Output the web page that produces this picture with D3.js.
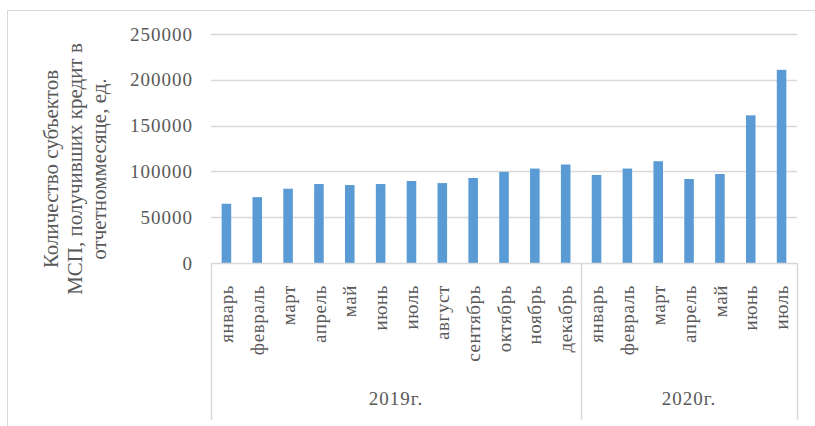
<!DOCTYPE html>
<html>
<head>
<meta charset="utf-8">
<script src="https://cdn.jsdelivr.net/npm/d3@7"></script>
<style>
  body { margin: 0; background: #fff; }
  text { font-family: "Liberation Serif", "Times New Roman", serif; fill: #595959; }
</style>
</head>
<body>
<div id="chart"></div>
<script>
var width = 815;
var height = 426;

var months2019 = ["январь","февраль","март","апрель","май","июнь","июль","август","сентябрь","октябрь","ноябрь","декабрь"];
var months2020 = ["январь","февраль","март","апрель","май","июнь","июль"];
var values2019 = [64700, 71900, 81100, 86200, 85100, 86200, 89500, 87300, 92800, 99500, 103100, 107500];
var values2020 = [96100, 103100, 111100, 91700, 97200, 161200, 210900];
var years = ["2019г.", "2020г."];
var yTicks = [0, 50000, 100000, 150000, 200000, 250000];
var yTitle = ["Количество субъектов", "МСП, получивших кредит в", "отчетноммесяце, ед."];

// flat list of bars, each knows its year group
var data = [];
months2019.forEach(function(m, i){ data.push({ key: "2019-" + i, month: m, year: years[0], value: values2019[i] }); });
months2020.forEach(function(m, i){ data.push({ key: "2020-" + i, month: m, year: years[1], value: values2020[i] }); });

var plotLeft = 211, plotRight = 797, plotTop = 34, plotBottom = 263, boxBottom = 420;

var svg = d3.select("#chart")
    .append("svg")
    .attr("width", width)
    .attr("height", height);

// outer chart frame
svg.append("rect")
    .attr("x", 7.5).attr("y", 10.5)
    .attr("width", 820).attr("height", 430)
    .attr("fill", "none")
    .attr("stroke", "#d9d9d9");

var x = d3.scaleBand()
    .domain(data.map(function(d){ return d.key; }))
    .range([plotLeft, plotRight])
    .paddingInner(0.69)
    .paddingOuter(0.345);

var y = d3.scaleLinear()
    .domain([0, 250000])
    .range([plotBottom, plotTop]);

// gridlines
svg.append("g")
    .selectAll("line")
    .data(yTicks.slice(1))
    .enter()
        .append("line")
        .attr("x1", plotLeft).attr("x2", plotRight)
        .attr("y1", function(d){ return Math.round(y(d)) + 0.5; })
        .attr("y2", function(d){ return Math.round(y(d)) + 0.5; })
        .attr("stroke", "#d9d9d9")
        .attr("stroke-width", 1.5);

// y tick labels
svg.append("g")
    .selectAll("text")
    .data(yTicks)
    .enter()
        .append("text")
        .attr("x", 193)
        .attr("y", function(d){ return y(d); })
        .attr("dy", "0.35em")
        .attr("text-anchor", "end")
        .style("font-size", "19px")
        .style("letter-spacing", "1px")
        .text(function(d){ return d; });

// bars
svg.append("g")
    .selectAll("rect")
    .data(data)
    .enter()
        .append("rect")
        .attr("x", function(d){ return x(d.key); })
        .attr("width", x.bandwidth())
        .attr("y", function(d){ return y(d.value); })
        .attr("height", function(d){ return y(0) - y(d.value); })
        .attr("fill", "#5b9bd5");

// category axis box
var firstOf2020 = x(data[months2019.length].key) - (x.step() - x.bandwidth()) / 2;
svg.append("line")
    .attr("x1", plotLeft).attr("x2", plotRight)
    .attr("y1", plotBottom + 0.5).attr("y2", plotBottom + 0.5)
    .attr("stroke", "#d9d9d9").attr("stroke-width", 1.5);
svg.append("g")
    .selectAll("line")
    .data([plotLeft, firstOf2020, plotRight])
    .enter()
        .append("line")
        .attr("x1", function(d){ return Math.round(d) + 0.5; })
        .attr("x2", function(d){ return Math.round(d) + 0.5; })
        .attr("y1", plotBottom).attr("y2", boxBottom)
        .attr("stroke", "#d9d9d9").attr("stroke-width", 1.5);

// month labels
svg.append("g")
    .selectAll("text")
    .data(data)
    .enter()
        .append("text")
        .attr("transform", function(d){
            return "translate(" + (x(d.key) + x.bandwidth() / 2) + "," + 285 + ") rotate(-90)";
        })
        .attr("dy", "0.35em")
        .attr("text-anchor", "end")
        .style("font-size", "19px")
        .style("letter-spacing", "0.6px")
        .text(function(d){ return d.month; });

// year labels
var groupEdges = [[plotLeft, firstOf2020], [firstOf2020, plotRight]];
svg.append("g")
    .selectAll("text")
    .data(years)
    .enter()
        .append("text")
        .attr("x", function(d, i){ return (groupEdges[i][0] + groupEdges[i][1]) / 2; })
        .attr("y", 405)
        .attr("text-anchor", "middle")
        .style("font-size", "19px")
        .style("letter-spacing", "1px")
        .text(function(d){ return d; });

// y axis title
svg.append("g")
    .attr("transform", "translate(0,169) rotate(-90)")
    .selectAll("text")
    .data(yTitle)
    .enter()
        .append("text")
        .attr("x", 0)
        .attr("y", function(d, i){ return 58 + i * 24; })
        .attr("text-anchor", "middle")
        .style("font-size", "21px")
        .text(function(d){ return d; });
</script>
</body>
</html>
